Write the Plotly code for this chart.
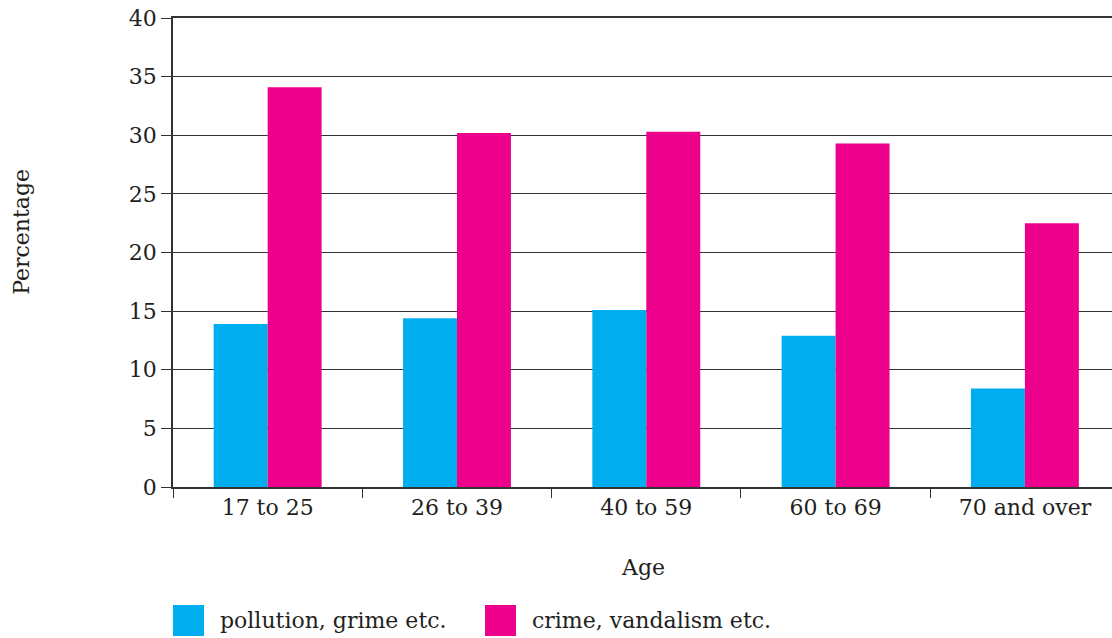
import plotly.graph_objects as go

# Data
age_groups = ["17 to 25", "26 to 39", "40 to 59", "60 to 69", "70 and over"]
series_names = ["pollution, grime etc.", "crime, vandalism etc."]
pollution = [13.9, 14.4, 15.1, 12.9, 8.4]
crime = [34.1, 30.2, 30.3, 29.3, 22.5]
colours = ["#00aeef", "#ec008c"]

font_family = "DejaVu Serif, Liberation Serif, serif"
text_col = "#231f20"
axis_col = "#333333"

fig = go.Figure()
for name, vals, col in zip(series_names, [pollution, crime], colours):
    fig.add_trace(go.Bar(x=age_groups, y=vals, name=name, showlegend=False,
                         marker=dict(color=col, line=dict(width=0))))

# hand-made legend with big squares (plotly's own symbols are too small)
legend_items = [(0.0, 0.0479), (0.3323, 0.3802)]
for (sx, tx), name, col in zip(legend_items, series_names, colours):
    fig.add_shape(type="rect", xref="paper", yref="paper",
                  x0=sx, x1=sx + 0.033, y0=-0.3177, y1=-0.2516,
                  fillcolor=col, line=dict(width=0))
    fig.add_annotation(x=tx, y=-0.2836, xref="paper", yref="paper",
                       text=name, showarrow=False, xanchor="left", yanchor="middle",
                       font=dict(size=22))

# axis titles
fig.add_annotation(x=-0.1608, y=0.544, xref="paper", yref="paper", text="Percentage",
                   showarrow=False, textangle=-90, font=dict(size=22),
                   xanchor="center", yanchor="middle")
fig.add_annotation(x=0.5005, y=-0.1706, xref="paper", yref="paper", text="Age",
                   showarrow=False, font=dict(size=22),
                   xanchor="center", yanchor="middle")

fig.update_layout(
    width=1112, height=638,
    margin=dict(l=173, r=0, t=18, b=151),
    plot_bgcolor="white", paper_bgcolor="white",
    font=dict(family=font_family, size=20, color=text_col),
    barmode="group", bargap=0.43, bargroupgap=0,
    showlegend=False,
)
# mirror=True gives the top line at 40 (the grid line there is dropped at the edge)
# range cut short on the right: the last category runs off the edge, as in the original
fig.update_xaxes(
    type="category", range=[-0.5, 4.46], automargin=False,
    showline=True, linecolor=axis_col, linewidth=1.5, mirror=True,
    ticks="outside", tickson="boundaries", ticklen=9, tickcolor=axis_col,
    showgrid=False,
    tickfont=dict(size=22),
)
fig.update_yaxes(
    range=[0, 40], dtick=5, tick0=0, automargin=False,
    showline=True, linecolor=axis_col, linewidth=1.5,
    ticks="outside", ticklen=10, tickcolor=axis_col,
    ticklabeloverflow="allow",
    showgrid=True, gridcolor=axis_col, gridwidth=1.2,
    zeroline=False,
    tickfont=dict(size=22),
)

# drop the default 8px page margin so the figure sits at the window's corner
fig.write_html("out.html", config={"displayModeBar": False},
               post_script="document.body.style.margin = '0';")
